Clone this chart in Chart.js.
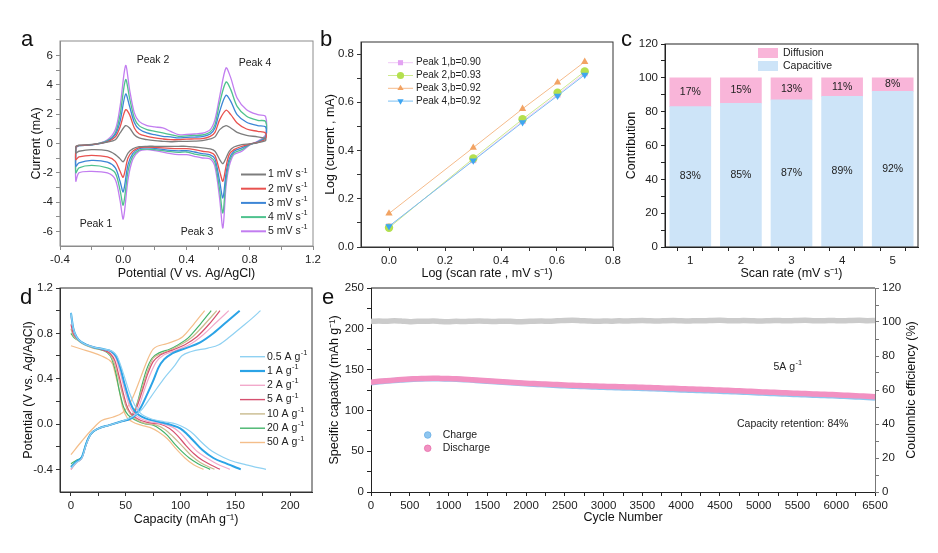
<!DOCTYPE html>
<html>
<head>
<meta charset="utf-8">
<title>CV / b-value / GCD / cycling</title>
<script src="https://cdn.jsdelivr.net/npm/chart.js@4.4.1/dist/chart.umd.min.js"></script>
<style>
  body { margin: 0; background: #fff; }
  #page { position: relative; width: 938px; height: 553px; overflow: hidden; font-family: Arial, "Liberation Sans", sans-serif; }
  #page canvas { position: absolute; }
  .tag { position: absolute; font-size: 22px; line-height: 22px; color: #111; }
</style>
</head>
<body>
<div id="page">
  <canvas id="cvA" width="330" height="290" style="left:0;top:0"></canvas>
  <canvas id="cvB" width="310" height="290" style="left:315px;top:0"></canvas>
  <canvas id="cvC" width="318" height="290" style="left:620px;top:0"></canvas>
  <canvas id="cvD" width="320" height="278" style="left:0;top:275px"></canvas>
  <canvas id="cvE" width="618" height="278" style="left:320px;top:275px"></canvas>
  <div class="tag" style="left:21px;top:28px">a</div>
  <div class="tag" style="left:320px;top:28px">b</div>
  <div class="tag" style="left:621px;top:28px">c</div>
  <div class="tag" style="left:20px;top:286px">d</div>
  <div class="tag" style="left:322px;top:286px">e</div>
</div>
<script>
// ---------- a : CV at different scan rates ----------
const cvLabels = ['1 mV s^-1', '2 mV s^-1', '3 mV s^-1', '4 mV s^-1', '5 mV s^-1'];
// anodic sweep (left -> right) and cathodic sweep (right -> left)
const cvUpV = [-0.3, -0.28, -0.2, -0.1, -0.05, -0.02, 0.015, 0.04, 0.07, 0.1, 0.15, 0.2, 0.25, 0.3, 0.35, 0.4, 0.45, 0.5, 0.55, 0.58, 0.61, 0.65, 0.68, 0.72, 0.78, 0.85, 0.9];
const cvDnV = [0.9, 0.85, 0.8, 0.75, 0.7, 0.67, 0.65, 0.63, 0.61, 0.58, 0.55, 0.5, 0.45, 0.4, 0.35, 0.3, 0.2, 0.15, 0.1, 0.06, 0.03, 0.0, -0.02, -0.05, -0.1, -0.2, -0.28, -0.3];
const cvUp1 = [-0.18, -0.12, -0.06, 0.1, 0.26, 0.72, 1.22, 1.06, 0.6, 0.38, 0.26, 0.19, 0.15, 0.12, 0.15, 0.15, 0.16, 0.19, 0.31, 0.45, 0.95, 1.22, 1.06, 0.76, 0.56, 0.45, 0.33];
const cvUp2 = [-0.2, -0.13, -0.08, 0.12, 0.45, 1.13, 2.31, 1.97, 1.06, 0.67, 0.49, 0.38, 0.31, 0.26, 0.26, 0.3, 0.31, 0.33, 0.49, 0.76, 1.63, 2.27, 1.97, 1.4, 0.99, 0.83, 0.72];
const cvUp3 = [-0.22, -0.14, -0.1, 0.15, 0.6, 1.51, 3.38, 2.54, 1.44, 0.99, 0.72, 0.6, 0.49, 0.45, 0.38, 0.42, 0.44, 0.47, 0.65, 1.06, 2.2, 3.29, 2.88, 1.97, 1.45, 1.22, 1.13];
const cvUp4 = [-0.25, -0.15, -0.1, 0.2, 0.72, 1.97, 4.36, 3.1, 1.74, 1.22, 0.95, 0.83, 0.72, 0.6, 0.49, 0.52, 0.55, 0.58, 0.78, 1.29, 2.77, 4.2, 3.68, 2.54, 1.86, 1.58, 1.51];
const cvUp5 = [-0.3, -0.15, -0.1, 0.26, 0.95, 2.54, 5.32, 3.68, 2.09, 1.51, 1.22, 1.13, 1.06, 0.83, 0.6, 0.62, 0.65, 0.7, 0.95, 1.63, 3.22, 5.16, 4.48, 3.11, 2.31, 1.97, 1.85];
const cvDn1 = [0.2, 0.05, -0.02, -0.08, -0.24, -0.53, -0.99, -1.38, -1.1, -0.53, -0.37, -0.3, -0.24, -0.19, -0.19, -0.19, -0.19, -0.19, -0.22, -0.37, -0.65, -1.25, -1.05, -0.76, -0.49, -0.42, -0.53, -0.64];
const cvDn2 = [0.3, 0.07, -0.04, -0.19, -0.42, -0.76, -1.56, -2.58, -1.9, -0.83, -0.6, -0.53, -0.42, -0.35, -0.35, -0.33, -0.26, -0.24, -0.28, -0.53, -0.99, -2.3, -1.9, -1.22, -0.92, -0.81, -0.92, -1.1];
const cvDn3 = [0.4, 0.1, -0.06, -0.3, -0.53, -1.05, -2.02, -3.72, -2.6, -1.05, -0.78, -0.69, -0.58, -0.49, -0.5, -0.47, -0.33, -0.3, -0.36, -0.69, -1.44, -3.3, -2.6, -1.67, -1.28, -1.15, -1.33, -1.55];
const cvDn4 = [0.5, 0.12, -0.08, -0.42, -0.65, -1.28, -2.47, -4.74, -3.2, -1.3, -0.92, -0.81, -0.72, -0.58, -0.6, -0.56, -0.42, -0.38, -0.45, -0.88, -1.9, -4.2, -3.2, -2.02, -1.67, -1.5, -1.67, -2.0];
const cvDn5 = [0.6, 0.15, -0.1, -0.53, -0.76, -1.56, -2.93, -5.77, -3.8, -1.6, -1.06, -0.99, -0.88, -0.76, -0.76, -0.69, -0.49, -0.42, -0.53, -1.1, -2.47, -5.15, -3.9, -2.47, -2.01, -1.9, -2.0, -2.57];
const aXMajor = [-0.4, 0, 0.4, 0.8, 1.2], aXMinor = [-0.2, 0.2, 0.6, 1.0];
const aYMajor = [-6, -4, -2, 0, 2, 4, 6], aYMinor = [-5, -3, -1, 1, 3, 5];

// ---------- b : log(i) vs log(v) ----------
const logRate = [0, 0.301, 0.477, 0.602, 0.699];
const peak1Log = [0.085, 0.36, 0.522, 0.632, 0.72];
const peak2Log = [0.08, 0.367, 0.53, 0.64, 0.728];
const peak3Log = [0.139, 0.412, 0.573, 0.682, 0.768];
const peak4Log = [0.086, 0.358, 0.517, 0.627, 0.714];
const peakLabels = ['Peak 1,b=0.90', 'Peak 2,b=0.93', 'Peak 3,b=0.92', 'Peak 4,b=0.92'];
const bXMajor = [0, 0.2, 0.4, 0.6, 0.8], bXMinor = [0.1, 0.3, 0.5, 0.7];
const bYMajor = [0, 0.2, 0.4, 0.6, 0.8], bYMinor = [0.1, 0.3, 0.5, 0.7];

// ---------- c : capacitive / diffusion share ----------
const scanRates = [1, 2, 3, 4, 5];
const capacitivePct = [83, 85, 87, 89, 92];
const diffusionPct = [17, 15, 13, 11, 8];
const cXMajor = [1, 2, 3, 4, 5], cXMinor = [1.5, 2.5, 3.5, 4.5];
const cYMajor = [0, 20, 40, 60, 80, 100, 120], cYMinor = [10, 30, 50, 70, 90, 110];

// ---------- d : charge / discharge profiles ----------
const gcdLabels = ['0.5 A g^-1', '1 A g^-1', '2 A g^-1', '5 A g^-1', '10 A g^-1', '20 A g^-1', '50 A g^-1'];
const ch05 = [[0,-0.39],[5,-0.34],[10,-0.3],[14,-0.18],[18,-0.09],[25,-0.04],[35,-0.01],[45,0.02],[55,0.06],[64,0.12],[73,0.24],[84,0.39],[95,0.52],[101,0.6],[110,0.64],[125,0.67],[135,0.7],[145,0.77],[155,0.85],[165,0.93],[173,1.0]];
const ch1 = [[0,-0.38],[5,-0.33],[10,-0.29],[14,-0.17],[18,-0.09],[25,-0.04],[35,-0.01],[45,0.02],[55,0.05],[60,0.09],[64,0.15],[69,0.25],[75,0.38],[80,0.5],[85,0.57],[92,0.62],[105,0.67],[118,0.72],[130,0.8],[142,0.9],[154,1.0]];
const ch2 = [[0,-0.4],[5,-0.34],[10,-0.3],[14,-0.18],[18,-0.09],[25,-0.04],[35,-0.01],[45,0.02],[55,0.05],[59,0.09],[63,0.18],[67,0.3],[72,0.43],[78,0.55],[85,0.61],[96,0.65],[110,0.71],[121,0.79],[133,0.9],[144,1.0]];
const ch5 = [[0,-0.4],[5,-0.34],[10,-0.3],[14,-0.18],[18,-0.09],[25,-0.04],[35,-0.01],[45,0.02],[54,0.05],[58,0.1],[62,0.2],[66,0.32],[70,0.44],[75,0.55],[82,0.61],[92,0.65],[104,0.7],[115,0.77],[126,0.88],[136,1.0]];
const ch10 = [[0,-0.37],[5,-0.33],[10,-0.29],[14,-0.17],[18,-0.09],[25,-0.04],[35,-0.01],[45,0.02],[54,0.05],[58,0.11],[62,0.22],[66,0.35],[70,0.47],[75,0.58],[82,0.62],[92,0.66],[102,0.71],[111,0.77],[122,0.88],[133,1.0]];
const ch20 = [[0,-0.35],[5,-0.32],[10,-0.29],[14,-0.17],[18,-0.09],[25,-0.04],[35,-0.01],[45,0.02],[53,0.05],[57,0.1],[61,0.2],[65,0.35],[69,0.48],[74,0.58],[81,0.63],[90,0.66],[98,0.7],[107,0.76],[118,0.88],[128,1.0]];
const ch50 = [[0,-0.27],[10,-0.15],[20,-0.04],[28,0.03],[38,0.06],[47,0.1],[53,0.17],[58,0.27],[64,0.42],[70,0.57],[75,0.66],[88,0.71],[102,0.77],[112,0.88],[122,1.0]];
const dis05 = [[0,0.98],[2,0.85],[5,0.77],[10,0.72],[20,0.68],[30,0.66],[38,0.64],[42,0.6],[46,0.5],[50,0.38],[54,0.26],[58,0.17],[62,0.11],[67,0.07],[75,0.04],[85,0.02],[96,0.0],[105,-0.04],[112,-0.09],[118,-0.15],[126,-0.22],[134,-0.27],[145,-0.32],[160,-0.36],[178,-0.4]];
const dis1 = [[0,0.98],[2,0.85],[5,0.77],[10,0.72],[20,0.68],[30,0.66],[37,0.64],[41,0.6],[45,0.5],[49,0.35],[53,0.22],[57,0.13],[62,0.08],[68,0.05],[80,0.02],[92,-0.01],[100,-0.04],[106,-0.09],[112,-0.15],[120,-0.23],[130,-0.3],[142,-0.35],[155,-0.4]];
const dis2 = [[0,0.95],[2,0.84],[5,0.77],[10,0.72],[20,0.68],[30,0.66],[37,0.63],[41,0.58],[45,0.45],[49,0.3],[53,0.17],[57,0.1],[63,0.05],[72,0.02],[84,0.0],[93,-0.03],[100,-0.08],[108,-0.17],[115,-0.24],[124,-0.3],[133,-0.35],[145,-0.4]];
const dis5 = [[0,0.88],[2,0.8],[5,0.76],[10,0.72],[20,0.68],[30,0.65],[36,0.62],[40,0.56],[44,0.42],[47,0.3],[51,0.16],[55,0.09],[62,0.04],[72,0.01],[81,0.0],[90,-0.04],[97,-0.1],[105,-0.19],[112,-0.26],[120,-0.32],[136,-0.4]];
const dis10 = [[0,0.84],[2,0.78],[5,0.75],[10,0.71],[20,0.67],[30,0.65],[35,0.62],[39,0.55],[43,0.42],[46,0.3],[50,0.16],[54,0.09],[61,0.03],[70,0.0],[78,-0.01],[86,-0.05],[93,-0.11],[102,-0.2],[110,-0.28],[118,-0.34],[131,-0.4]];
const dis20 = [[0,0.8],[3,0.76],[8,0.73],[15,0.69],[25,0.66],[33,0.63],[37,0.58],[41,0.45],[44,0.3],[48,0.15],[52,0.08],[60,0.03],[68,0.0],[75,-0.01],[82,-0.05],[88,-0.1],[95,-0.18],[100,-0.23],[108,-0.3],[116,-0.35],[127,-0.4]];
const dis50 = [[0,0.69],[10,0.66],[20,0.63],[28,0.6],[34,0.57],[38,0.53],[41,0.42],[44,0.3],[47,0.15],[51,0.06],[56,0.02],[64,-0.01],[72,-0.03],[80,-0.07],[88,-0.13],[96,-0.22],[104,-0.3],[112,-0.36],[121,-0.4]];
const dXMajor = [0, 50, 100, 150, 200], dXMinor = [25, 75, 125, 175];
const dYMajor = [-0.4, 0, 0.4, 0.8, 1.2], dYMinor = [-0.2, 0.2, 0.6, 1.0];

// ---------- e : long cycling at 5 A/g ----------
const cycleNo = [0,100,200,300,400,500,600,700,800,900,
  1000,1100,1200,1300,1400,1500,1600,1700,1800,1900,
  2000,2100,2200,2300,2400,2500,2600,2700,2800,2900,
  3000,3100,3200,3300,3400,3500,3600,3700,3800,3900,
  4000,4100,4200,4300,4400,4500,4600,4700,4800,4900,
  5000,5100,5200,5300,5400,5500,5600,5700,5800,5900,
  6000,6100,6200,6300,6400,6500];
const chargeCap = [134.0,135.1,135.9,136.6,137.4,137.9,138.4,138.7,138.9,138.7,
  138.5,138.2,137.7,137.1,136.4,135.6,135.0,134.4,133.8,133.2,
  132.5,132.0,131.6,131.1,130.6,130.1,129.7,129.3,129.0,128.6,
  128.3,128.0,127.7,127.5,127.2,126.9,126.6,126.3,125.9,125.5,
  125.1,124.8,124.5,124.2,123.8,123.5,123.1,122.7,122.3,121.9,
  121.4,121.0,120.6,120.2,119.8,119.4,119.1,118.7,118.4,118.0,
  117.7,117.2,116.8,116.3,115.8,115.3];
const dischargeCap = [134.5,135.6,136.4,137.1,137.9,138.4,138.9,139.2,139.4,139.2,
  139.0,138.8,138.3,137.7,137.0,136.2,135.6,135.1,134.5,133.9,
  133.3,132.9,132.5,132.0,131.6,131.1,130.8,130.4,130.1,129.8,
  129.5,129.3,129.0,128.8,128.6,128.3,128.0,127.7,127.3,127.0,
  126.6,126.3,126.0,125.7,125.3,125.0,124.6,124.2,123.8,123.4,
  122.9,122.5,122.1,121.7,121.3,120.9,120.6,120.2,119.9,119.5,
  119.2,118.7,118.3,117.8,117.3,116.8];
const coulEff = [100.3,100.6,100.4,100.7,100.5,100.2,100.5,100.4,100.6,100.3,
  100.2,100.4,100.3,100.5,100.6,100.4,100.3,100.5,100.4,100.2,
  100.3,100.5,100.6,100.4,100.7,100.9,101.0,100.8,100.6,100.4,
  100.6,100.5,100.7,100.6,100.8,100.9,100.7,100.6,100.8,100.9,
  100.7,100.6,100.8,100.7,100.9,101.0,100.8,100.7,100.9,100.8,
  100.6,100.7,100.9,100.8,100.7,100.9,101.0,100.8,100.7,100.9,
  100.8,100.7,100.9,101.0,100.8,100.9];
const eXMajor = [0,500,1000,1500,2000,2500,3000,3500,4000,4500,5000,5500,6000,6500];
const eXMinor = [250,750,1250,1750,2250,2750,3250,3750,4250,4750,5250,5750,6250];
const eYMajor = [0, 50, 100, 150, 200, 250], eYMinor = [25, 75, 125, 175, 225];
const eRMajor = [0, 20, 40, 60, 80, 100, 120], eRMinor = [10, 30, 50, 70, 90, 110];

// ---------- helpers ----------
const FONT = 'Arial, "Liberation Sans", sans-serif';
Chart.defaults.font.family = FONT;
Chart.defaults.font.size = 11.5;
Chart.defaults.color = '#222';

const fx1 = v => v.toFixed(1);
const fx0 = v => String(v);

function axis(min, max, major, minor, fmt, size, line, title, extra) {
  const all = major.concat(minor).sort((p, q) => p - q);
  return Object.assign({
    type: 'linear', min: min, max: max,
    afterBuildTicks: s => { s.ticks = all.map(v => ({ value: v })); },
    afterFit: s => { if (s.isHorizontal()) s.height = size; else s.width = size; },
    ticks: { autoSkip: false, maxRotation: 0, padding: 3, color: '#222',
             callback: v => major.includes(v) ? fmt(v) : '' },
    grid: { drawOnChartArea: false, tickLength: 4, color: line, tickColor: line },
    border: { color: line },
    title: { display: !!title, text: title || '', color: '#111', font: { size: 12.5 }, padding: 0 }
  }, extra || {});
}

// text with an optional raised part after "^", e.g. "5 mV s^-1"
function sup(ctx, str, x, y, size, align) {
  const parts = str.split('^');
  ctx.font = size + 'px ' + FONT;
  const w1 = ctx.measureText(parts[0]).width;
  ctx.font = (size * 0.7) + 'px ' + FONT;
  const w2 = parts[1] ? ctx.measureText(parts[1]).width + 0.5 : 0;
  const x0 = align === 'center' ? x - (w1 + w2) / 2 : x;
  ctx.textAlign = 'left';
  ctx.textBaseline = 'middle';
  ctx.font = size + 'px ' + FONT;
  ctx.fillText(parts[0], x0, y);
  if (parts[1]) {
    ctx.font = (size * 0.7) + 'px ' + FONT;
    ctx.fillText(parts[1], x0 + w1 + 0.5, y - size * 0.38);
  }
}

function frame(ctx, c, color) {
  const a = c.chartArea;
  ctx.strokeStyle = color;
  ctx.lineWidth = 1;
  ctx.strokeRect(a.left, a.top, a.right - a.left, a.bottom - a.top);
}

function deco(draw) {
  return { id: 'deco', afterDraw: c => { c.ctx.save(); draw(c.ctx, c); c.ctx.restore(); } };
}

const base = { responsive: false, animation: false, devicePixelRatio: 1,
  plugins: { legend: { display: false }, tooltip: { enabled: false } } };

// ---------- chart a ----------
const cvColors = ['#7d7d7d', '#e8524f', '#3d86d6', '#4fc28e', '#c27df0'];
const cvUps = [cvUp1, cvUp2, cvUp3, cvUp4, cvUp5];
const cvDns = [cvDn1, cvDn2, cvDn3, cvDn4, cvDn5];
function cvLoop(up, dn) {
  const pts = cvUpV.map((v, i) => ({ x: v, y: up[i] }))
    .concat(cvDnV.map((v, i) => ({ x: v, y: dn[i] })));
  pts.push(pts[0]);
  return pts;
}
new Chart(document.getElementById('cvA'), {
  type: 'scatter',
  data: { datasets: cvUps.map((up, i) => ({
    data: cvLoop(up, cvDns[i]), showLine: true, pointRadius: 0,
    borderColor: cvColors[i], borderWidth: 1.3, tension: 0.3
  })) },
  options: Object.assign({}, base, {
    layout: { padding: { left: 29, top: 41, right: 17, bottom: 9 } },
    scales: {
      x: axis(-0.4, 1.2, aXMajor, aXMinor, fx1, 35, '#8c8c8c', 'Potential (V vs. Ag/AgCl)'),
      y: axis(-7, 7, aYMajor, aYMinor, fx0, 31, '#8c8c8c', 'Current (mA)')
    }
  }),
  plugins: [deco((ctx, c) => {
    frame(ctx, c, '#8c8c8c');
    ctx.fillStyle = '#222';
    sup(ctx, 'Peak 2', 153, 60, 10.5, 'center');
    sup(ctx, 'Peak 4', 255, 63, 10.5, 'center');
    sup(ctx, 'Peak 1', 96, 224, 10.5, 'center');
    sup(ctx, 'Peak 3', 197, 232, 10.5, 'center');
    cvLabels.forEach((lab, i) => {
      const y = 174.5 + i * 14.2;
      ctx.strokeStyle = cvColors[i];
      ctx.lineWidth = 2;
      ctx.beginPath(); ctx.moveTo(241, y); ctx.lineTo(266, y); ctx.stroke();
      ctx.fillStyle = '#222';
      sup(ctx, lab, 268, y, 10.5);
    });
  })]
});

// ---------- chart b ----------
const bStyles = [
  { pt: '#e3a3f2', ln: '#efc9f6', shape: 'rect', rot: 0, order: 4 },
  { pt: '#b4e04e', ln: '#cde98f', shape: 'circle', rot: 0, order: 2 },
  { pt: '#f2a363', ln: '#f5bb8b', shape: 'triangle', rot: 0, order: 3 },
  { pt: '#3ea6f2', ln: '#79bff3', shape: 'triangle', rot: 180, order: 1 }
];
const bSeries = [peak1Log, peak2Log, peak3Log, peak4Log];
new Chart(document.getElementById('cvB'), {
  type: 'scatter',
  data: { datasets: bSeries.map((s, i) => ({
    data: logRate.map((x, j) => ({ x: x, y: s[j] })), showLine: true,
    borderColor: bStyles[i].ln, borderWidth: 1, order: bStyles[i].order,
    pointStyle: bStyles[i].shape, rotation: bStyles[i].rot, pointRadius: 4.2,
    pointBackgroundColor: bStyles[i].pt, pointBorderColor: bStyles[i].pt, pointBorderWidth: 0
  })) },
  options: Object.assign({}, base, {
    layout: { padding: { left: 8, top: 42, right: 12, bottom: 9 } },
    scales: {
      x: axis(-0.1, 0.8, bXMajor, bXMinor, fx1, 34, '#333', 'Log (scan rate , mV s\u207B\u00B9)'),
      y: axis(0, 0.85, bYMajor, bYMinor, fx1, 38, '#333', 'Log (current , mA)')
    }
  }),
  plugins: [deco((ctx, c) => {
    frame(ctx, c, '#333');
    peakLabels.forEach((lab, i) => {
      const y = 62.7 + i * 12.8;
      ctx.strokeStyle = bStyles[i].ln;
      ctx.lineWidth = 1;
      ctx.beginPath(); ctx.moveTo(73, y); ctx.lineTo(98, y); ctx.stroke();
      ctx.fillStyle = bStyles[i].pt;
      ctx.strokeStyle = bStyles[i].pt;
      Chart.helpers.drawPoint(ctx, { pointStyle: bStyles[i].shape, rotation: bStyles[i].rot, radius: 3.6, borderWidth: 0 }, 85.5, y);
      ctx.fillStyle = '#222';
      sup(ctx, lab, 101, y, 10);
    });
  })]
});

// ---------- chart c ----------
const cColors = { cap: '#cde4f8', dif: '#f9b5d9' };
new Chart(document.getElementById('cvC'), {
  type: 'bar',
  data: { datasets: [
    { label: 'Capacitive', data: scanRates.map((x, i) => ({ x: x, y: capacitivePct[i] })),
      backgroundColor: cColors.cap, barThickness: 41 },
    { label: 'Diffusion', data: scanRates.map((x, i) => ({ x: x, y: diffusionPct[i] })),
      backgroundColor: cColors.dif, barThickness: 41 }
  ] },
  options: Object.assign({}, base, {
    layout: { padding: { left: 4, top: 44, right: 20, bottom: 9 } },
    scales: {
      x: axis(0.5, 5.5, cXMajor, cXMinor, fx0, 34, '#222', 'Scan rate (mV s\u207B\u00B9)',
        { stacked: true, offset: false }),
      y: axis(0, 120, cYMajor, cYMinor, fx0, 41, '#222', 'Contribution', { stacked: true })
    }
  }),
  plugins: [deco((ctx, c) => {
    frame(ctx, c, '#222');
    ctx.fillStyle = '#222';
    c.data.datasets.forEach((ds, di) => {
      c.getDatasetMeta(di).data.forEach((el, j) => {
        sup(ctx, ds.data[j].y + '%', el.x, (el.y + el.base) / 2, 10.5, 'center');
      });
    });
    [['Diffusion', cColors.dif, 53], ['Capacitive', cColors.cap, 66]].forEach(r => {
      ctx.fillStyle = r[1];
      ctx.fillRect(138, r[2] - 5, 20, 10);
      ctx.fillStyle = '#222';
      sup(ctx, r[0], 163, r[2], 10.5);
    });
  })]
});

// ---------- chart d ----------
const gcdColors = ['#8fd1f2', '#2ba3e6', '#f2a9cb', '#d6506f', '#c9bb8e', '#45b46b', '#f4be8a'];
const gcdCharge = [ch05, ch1, ch2, ch5, ch10, ch20, ch50];
const gcdDischarge = [dis05, dis1, dis2, dis5, dis10, dis20, dis50];
const gcdSets = [];
gcdCharge.forEach((ch, i) => {
  [ch, gcdDischarge[i]].forEach(src => gcdSets.push({
    data: src.map(p => ({ x: p[0], y: p[1] })), showLine: true, pointRadius: 0,
    borderColor: gcdColors[i], borderWidth: i === 1 ? 2 : 1.2, cubicInterpolationMode: 'monotone'
  }));
});
new Chart(document.getElementById('cvD'), {
  type: 'scatter',
  data: { datasets: gcdSets },
  options: Object.assign({}, base, {
    layout: { padding: { left: 21, top: 13, right: 8, bottom: 25.5 } },
    scales: {
      x: axis(-10, 220, dXMajor, dXMinor, fx0, 35.5, '#333', 'Capacity (mAh g\u207B\u00B9)'),
      y: axis(-0.6, 1.2, dYMajor, dYMinor, fx1, 39, '#333', 'Potential (V vs. Ag/AgCl)')
    }
  }),
  plugins: [deco((ctx, c) => {
    frame(ctx, c, '#333');
    gcdLabels.forEach((lab, i) => {
      const y = 81.7 + i * 14.3;
      ctx.strokeStyle = gcdColors[i];
      ctx.lineWidth = i === 1 ? 2.2 : 1.4;
      ctx.beginPath(); ctx.moveTo(240, y); ctx.lineTo(265, y); ctx.stroke();
      ctx.fillStyle = '#222';
      sup(ctx, lab, 267, y, 10.5);
    });
  })]
});

// ---------- chart e ----------
const eColors = { ce: '#cbcbcb', ch: '#8fc6ef', dis: '#f291c2' };
function band(vals, color, axisId) {
  return { data: cycleNo.map((x, i) => ({ x: x, y: vals[i] })), yAxisID: axisId, showLine: true,
    borderColor: color, borderWidth: 5.5, pointRadius: 2, pointBackgroundColor: color,
    pointBorderWidth: 0, tension: 0.2 };
}
new Chart(document.getElementById('cvE'), {
  type: 'scatter',
  data: { datasets: [
    Object.assign(band(coulEff, eColors.ce, 'y2'), { order: 3 }),
    Object.assign(band(chargeCap, eColors.ch, 'y'), { order: 2 }),
    Object.assign(band(dischargeCap, eColors.dis, 'y'), { order: 1 })
  ] },
  options: Object.assign({}, base, {
    layout: { padding: { left: 7.5, top: 13, right: 18.8, bottom: 27.5 } },
    scales: {
      x: axis(0, 6500, eXMajor, eXMinor, fx0, 33.5, '#222', 'Cycle Number'),
      y: axis(0, 250, eYMajor, eYMinor, fx0, 43.5, '#222', 'Specific capacity (mAh g\u207B\u00B9)'),
      y2: axis(0, 120, eRMajor, eRMinor, fx0, 44.2, '#777', null, { position: 'right' })
    }
  }),
  plugins: [deco((ctx, c) => {
    const a = c.chartArea;
    ctx.strokeStyle = '#222';
    ctx.lineWidth = 1;
    ctx.beginPath(); ctx.moveTo(a.left, a.top); ctx.lineTo(a.right, a.top); ctx.stroke();
    ctx.fillStyle = '#222';
    sup(ctx, '5A g^-1', 467.7, 91.7, 10.5, 'center');
    sup(ctx, 'Capacity retention: 84%', 472.7, 149, 10.5, 'center');
    [['Charge', eColors.ch, '#6aaee6', 160], ['Discharge', eColors.dis, '#e66fab', 173.3]].forEach(r => {
      ctx.fillStyle = r[1];
      ctx.strokeStyle = r[2];
      ctx.lineWidth = 0.8;
      ctx.beginPath(); ctx.arc(107.7, r[3], 3.3, 0, Math.PI * 2); ctx.fill(); ctx.stroke();
      ctx.fillStyle = '#222';
      sup(ctx, r[0], 122.7, r[3], 10.5);
    });
    // right-hand title reads bottom-to-top, like the left one
    ctx.save();
    ctx.translate(591.7, (a.top + a.bottom) / 2);
    ctx.rotate(-Math.PI / 2);
    ctx.fillStyle = '#111';
    sup(ctx, 'Coulombic efficiency (%)', 0, 0, 12.5, 'center');
    ctx.restore();
  })]
});
</script>
</body>
</html>
